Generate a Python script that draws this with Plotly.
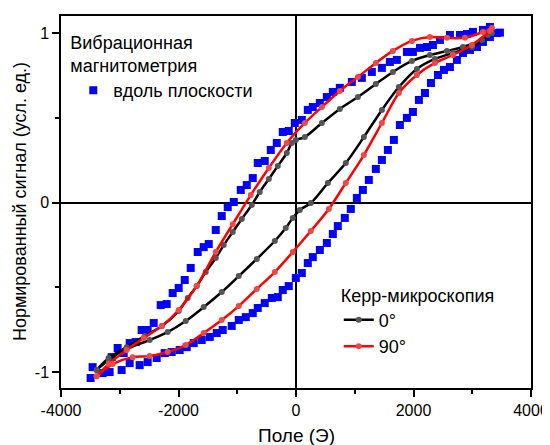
import plotly.graph_objects as go

# ---------------- data ----------------
# Vibrating sample magnetometry (in-plane), descending branch
vsm_down_x = [3471, 3301, 3182, 3012, 2910, 2790, 2620, 2450, 2331, 2229, 2110, 1990, 1888,
              1717, 1598, 1462, 1291, 1121, 951, 746, 627, 525, 406, 286, 201, 99, -20,
              -123, -225, -327, -429, -532, -651, -736, -838, -940, -1059, -1162, -1264,
              -1366, -1485, -1571, -1673, -1792, -1894, -1997, -2099, -2201, -2303, -2422,
              -2525, -2627, -2729, -2831, -2933, -3036, -3138, -3291, -3462, -3496]
vsm_down_y = [1.002, 1.035, 1.018, 1.006, 0.994, 0.988, 0.988, 0.959, 0.929, 0.917, 0.912,
              0.888, 0.888, 0.841, 0.829, 0.794, 0.770, 0.735, 0.711, 0.676, 0.652, 0.622,
              0.587, 0.563, 0.546, 0.487, 0.469, 0.422, 0.416, 0.351, 0.310, 0.245, 0.233,
              0.144, 0.103, 0.074, 0.003, -0.027, -0.080, -0.162, -0.245, -0.263, -0.292,
              -0.386, -0.457, -0.504, -0.534, -0.599, -0.605, -0.711, -0.752, -0.752,
              -0.823, -0.829, -0.888, -0.858, -0.912, -1.006, -0.971, -1.035]
# VSM ascending branch
vsm_up_x = [-3172, -2968, -2831, -2661, -2525, -2371, -2235, -2116, -1980, -1860, -1741,
            -1605, -1468, -1349, -1247, -1094, -974, -855, -736, -651, -532, -412, -310,
            -225, -123, -3, 99, 201, 286, 406, 525, 627, 712, 831, 933, 1036, 1138, 1240,
            1359, 1462, 1564, 1666, 1768, 1888, 1990, 2092, 2195, 2297, 2416, 2518, 2620,
            2739, 2842, 2961, 3080, 3182, 3301, 3420]
vsm_up_y = [-1.000, -0.988, -0.947, -0.959, -0.941, -0.917, -0.888, -0.882, -0.870, -0.853,
            -0.829, -0.811, -0.793, -0.770, -0.752, -0.728, -0.693, -0.676, -0.652, -0.622,
            -0.593, -0.563, -0.558, -0.516, -0.493, -0.445, -0.416, -0.357, -0.322, -0.280,
            -0.239, -0.186, -0.139, -0.091, -0.038, 0.027, 0.074, 0.133, 0.198, 0.251,
            0.310, 0.369, 0.457, 0.499, 0.534, 0.605, 0.646, 0.705, 0.752, 0.782, 0.799,
            0.841, 0.882, 0.900, 0.917, 0.947, 0.976, 1.000]

# Kerr microscopy 0 deg
k0_down_x = [3336, 3165, 2842, 2569, 2279, 1973, 1649, 1359, 1053, 746, 440, 150, -3, -72,
             -157, -310, -463, -617, -753, -923, -1077, -1230, -1366, -1537, -1690, -1843,
             -1997, -2283, -2576, -2883, -3190, -3394]
k0_down_y = [1.000, 0.959, 0.917, 0.894, 0.870, 0.835, 0.770, 0.699, 0.622, 0.552, 0.469,
             0.386, 0.369, 0.351, 0.292, 0.215, 0.139, 0.062, -0.015, -0.097, -0.174,
             -0.251, -0.327, -0.410, -0.493, -0.563, -0.640, -0.729, -0.788, -0.853,
             -0.917, -0.988]
k0_up_x = [-3394, -3190, -2883, -2491, -2184, -1877, -1571, -1264, -974, -668, -361, -174,
           -55, 65, 252, 542, 848, 1155, 1462, 1751, 2057, 2364, 2671, 2995, 3267]
k0_up_y = [-0.988, -0.929, -0.864, -0.811, -0.764, -0.699, -0.617, -0.528, -0.434, -0.333,
           -0.227, -0.150, -0.091, -0.044, -0.003, 0.115, 0.233, 0.386, 0.546, 0.681,
           0.788, 0.847, 0.882, 0.917, 0.988]

# Kerr microscopy 90 deg
k90_down_x = [3336, 3182, 2875, 2569, 2279, 1973, 1649, 1359, 1053, 746, 440, 150, -157,
              -463, -770, -1077, -1366, -1690, -1997, -2286, -2593, -2883, -3190, -3394]
k90_down_y = [1.029, 1.006, 0.971, 0.971, 0.976, 0.953, 0.894, 0.823, 0.740, 0.658, 0.563,
              0.469, 0.351, 0.204, 0.044, -0.128, -0.292, -0.493, -0.634, -0.729, -0.799,
              -0.870, -0.953, -1.024]
k90_up_x = [-3394, -3122, -2780, -2491, -2184, -1877, -1571, -1264, -974, -668, -361, -55,
            252, 559, 848, 1155, 1462, 1751, 2057, 2364, 2671, 2995, 3301]
k90_up_y = [-1.024, -0.953, -0.912, -0.906, -0.882, -0.841, -0.770, -0.693, -0.611, -0.510,
            -0.410, -0.292, -0.168, -0.038, 0.115, 0.280, 0.469, 0.646, 0.752, 0.823,
            0.870, 0.929, 1.012]

x_tick_vals = [-4000, -2000, 0, 2000, 4000]
x_tick_text = ["-4000", "-2000", "0", "2000", "4000"]
x_minor_vals = [-4000, -3000, -2000, -1000, 0, 1000, 2000, 3000, 4000]
y_tick_vals = [-1, 0, 1]
y_tick_text = ["-1", "0", "1"]
y_minor_vals = [-1, -0.5, 0, 0.5, 1]

x_title = "Поле (Э)"
y_title = "Нормированный сигнал (усл. ед.)"

FONT = "Liberation Sans, Arial, sans-serif"

fig = go.Figure()

fig.add_trace(go.Scatter(
    x=vsm_down_x + [None] + vsm_up_x, y=vsm_down_y + [None] + vsm_up_y,
    mode="markers", name="вдоль плоскости", legend="legend",
    marker=dict(symbol="square", size=8, color="#0000ff", line=dict(width=0)),
    showlegend=True,
))
fig.add_trace(go.Scatter(
    x=k0_down_x + [None] + k0_up_x, y=k0_down_y + [None] + k0_up_y,
    mode="lines+markers", name="0°", legend="legend2",
    line=dict(color="#000000", width=2.5, shape="spline", smoothing=0.8),
    marker=dict(symbol="circle", size=6, color="#555555"),
))
fig.add_trace(go.Scatter(
    x=k90_down_x + [None] + k90_up_x, y=k90_down_y + [None] + k90_up_y,
    mode="lines+markers", name="90°", legend="legend2",
    line=dict(color="#ff0000", width=2.5, shape="spline", smoothing=0.8),
    marker=dict(symbol="circle", size=6, color="#f04848"),
))

axis_common = dict(
    showgrid=False, showline=True, linecolor="black", linewidth=1.5, mirror=True,
    ticks="outside", ticklen=7, tickwidth=1.5, tickcolor="black",
    zeroline=True, zerolinecolor="black", zerolinewidth=1.5,
    tickfont=dict(size=16, family=FONT, color="black"),
    automargin=False,
)

# the page body adds an 8 px offset, so the figure is 8 px smaller than the window
fig.update_layout(
    width=542, height=437,
    margin=dict(l=53, r=19, t=8, b=57, autoexpand=False),
    plot_bgcolor="white", paper_bgcolor="white",
    font=dict(family=FONT, color="black"),
    xaxis=dict(
        range=[-4000, 4000], tickmode="array", tickvals=x_tick_vals, ticktext=x_tick_text,
        minor=dict(tickmode="array", tickvals=x_minor_vals, ticks="outside", ticklen=4,
                   tickwidth=1.5, tickcolor="black"),
        **axis_common,
    ),
    yaxis=dict(
        range=[-1.094, 1.1], tickmode="array", tickvals=y_tick_vals, ticktext=y_tick_text,
        minor=dict(tickmode="array", tickvals=y_minor_vals, ticks="outside", ticklen=4,
                   tickwidth=1.5, tickcolor="black"),
        **axis_common,
    ),
    annotations=[
        dict(text=x_title, xref="paper", yref="paper", x=0.5, y=-0.129,
             xanchor="center", yanchor="middle", showarrow=False,
             font=dict(size=19, family=FONT, color="black")),
        dict(text=y_title, xref="paper", yref="paper", x=-0.087, y=0.5, textangle=-90,
             xanchor="center", yanchor="middle", showarrow=False,
             font=dict(size=18, family=FONT, color="black")),
    ],
    legend=dict(
        x=0.0155, y=0.975, xanchor="left", yanchor="top",
        title=dict(text="Вибрационная<br>магнитометрия", font=dict(size=18, family=FONT)),
        font=dict(size=18, family=FONT), bgcolor="rgba(0,0,0,0)", indentation=5,
        itemsizing="trace",
    ),
    legend2=dict(
        x=0.591, y=0.295, xanchor="left", yanchor="top",
        title=dict(text="Керр-микроскопия", font=dict(size=18, family=FONT)),
        font=dict(size=18, family=FONT), bgcolor="rgba(0,0,0,0)",
        itemsizing="trace",
    ),
)

fig.write_html("out.html")
